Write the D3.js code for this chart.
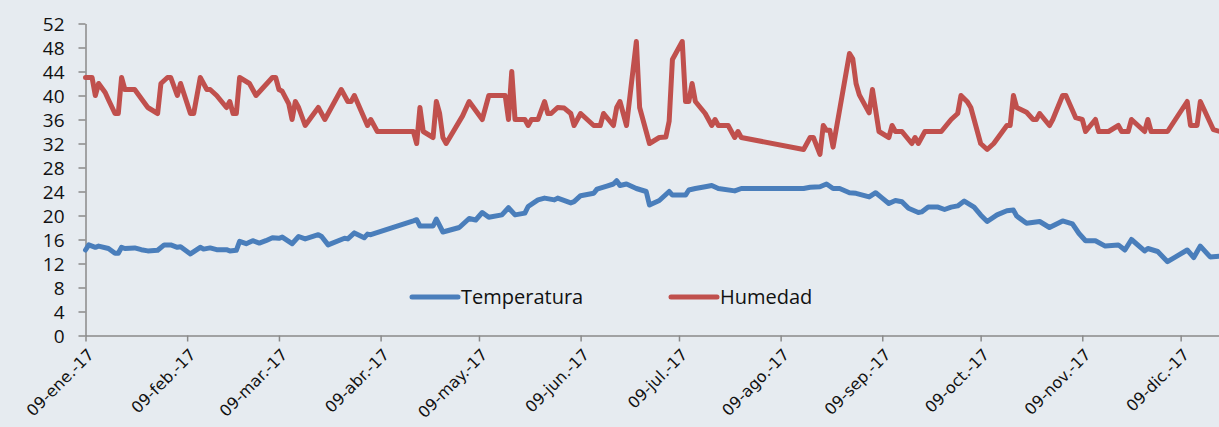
<!DOCTYPE html>
<html>
<head>
<meta charset="utf-8">
<script src="https://cdn.jsdelivr.net/npm/d3@7.9.0/dist/d3.min.js"></script>
<style>
  html, body { margin: 0; padding: 0; background: #e6ebf0; }
  svg { display: block; }
  .axis path, .axis line { stroke: #8a8a8a; stroke-width: 1.5; }
  .y-axis text { font-family: "Open Sans", sans-serif; font-size: 19px; fill: #111; }
  .x-axis text { font-family: "DejaVu Sans", sans-serif; font-size: 16px; fill: #111; }
  .legend text { font-family: "Open Sans", sans-serif; font-size: 20px; fill: #111; }
</style>
</head>
<body>
<svg id="chart" width="1219" height="427"></svg>
<script>
// Humedad (daily readings)
const humDates = ['01-09','01-11','01-12','01-13','01-15','01-16','01-18','01-19','01-20','01-21','01-24','01-28','01-31',
  '02-01','02-03','02-04','02-06','02-07','02-10','02-11','02-13','02-15','02-16','02-18','02-21','02-22','02-23','02-24','02-25','02-28',
  '03-02','03-07','03-08','03-09','03-10','03-12','03-13','03-14','03-15','03-17','03-21','03-23','03-28','03-30','03-31',
  '04-01','04-05','04-06','04-08','04-19','04-20','04-21','04-22','04-25','04-26','04-27','04-28','04-29',
  '05-04','05-06','05-10','05-12','05-17','05-18','05-19','05-20','05-23','05-24','05-25','05-27','05-29','05-30','05-31',
  '06-02','06-04','06-06','06-07','06-09','06-13','06-15','06-16','06-19','06-20','06-21','06-23','06-26','06-27','06-29','06-30',
  '07-03','07-05','07-06','07-07','07-10','07-11','07-12','07-13','07-14','07-17','07-19','07-20','07-21','07-24','07-26','07-27','07-28',
  '08-16','08-18','08-19','08-21','08-22','08-23','08-24','08-25','08-30','08-31',
  '09-01','09-02','09-05','09-06','09-08','09-11','09-12','09-13','09-15','09-18','09-19','09-20','09-22','09-27','09-30',
  '10-02','10-03','10-05','10-06','10-09','10-11','10-13','10-17','10-18','10-19','10-20','10-23','10-25','10-26','10-27','10-30','10-31',
  '11-03','11-04','11-07','11-09','11-10','11-13','11-14','11-17','11-20','11-21','11-23','11-24','11-28','11-29','11-30',
  '12-05','12-11','12-12','12-14','12-15','12-19','12-21'];
const humValues = [43,43,40,42,40.5,39.3,37,37,43,41,41,38,37,
  42,43,43,40,42,37,37,43,41,41,40,38,39,37,37,43,42,
  40,43,43,41,40.7,38.6,36,39,38,35,38,36,41,39,39,
  40,35,36,34,34,32,38,34,33,39,37,33,32,
  36.6,39,36,40,40,36,44,36,36,35,36,36,39,37,37,
  38,37.9,37,35,37,35,35,37,35,38,39,35,49,38,34,32,
  33,33.1,35.7,46,49,39,39,42,39,37,35,36,35,35,33,34,33,
  31,33,33,30.2,35,34.2,34.2,31.4,47,46.1,
  42,40.1,37.1,41,34,33,35,34,34,32,33,32,34,34,36,
  37,40,38.9,38,32,31,32,35,35,40,38,37.2,36,36,37,35,36,
  40,40,36.3,36,34,36,34,34,35,34,34,36,34,36,34,
  34,39,35,35,39,34.3,34];

// Temperatura
const tempDates = ['01-09','01-10','01-12','01-13','01-16','01-18','01-19','01-20','01-21','01-24','01-26','01-28','01-31',
  '02-02','02-04','02-06','02-07','02-10','02-13','02-14','02-16','02-18','02-21','02-22','02-24','02-25','02-27',
  '03-01','03-03','03-05','03-07','03-09','03-10','03-13','03-15','03-17','03-21','03-22','03-24','03-29','03-30',
  '04-01','04-04','04-05','04-06','04-19','04-20','04-21','04-25','04-26','04-28',
  '05-03','05-06','05-08','05-10','05-12','05-16','05-18','05-20','05-23','05-24','05-27','05-29',
  '06-01','06-02','06-06','06-07','06-09','06-13','06-14','06-17','06-19','06-20','06-21','06-23','06-26','06-29','06-30',
  '07-03','07-06','07-07','07-11','07-12','07-14','07-17','07-19','07-21','07-26','07-28',
  '08-16','08-18','08-21','08-23','08-25','08-27','08-30',
  '09-01','09-05','09-07','09-09','09-11','09-13','09-15','09-17','09-20','09-21','09-23','09-26','09-28','09-30',
  '10-02','10-04','10-07','10-09','10-11','10-14','10-17','10-19','10-20','10-23','10-27','10-30',
  '11-03','11-06','11-08','11-10','11-13','11-16','11-20','11-22','11-24','11-28','11-29',
  '12-02','12-05','12-11','12-13','12-15','12-18','12-21'];
const tempValues = [14.25,15.1,14.7,14.9,14.5,13.7,13.7,14.7,14.5,14.6,14.3,14.1,14.2,
  15.1,15.1,14.7,14.8,13.6,14.7,14.4,14.6,14.3,14.3,14.1,14.2,15.7,15.3,
  15.8,15.4,15.8,16.3,16.2,16.4,15.3,16.5,16.1,16.8,16.5,15.1,16.2,16.1,
  17.1,16.3,16.9,16.8,19.1,19.3,18.25,18.25,19.4,17.25,
  18.0,19.5,19.25,20.5,19.7,20.1,21.3,20.1,20.4,21.5,22.6,22.9,
  22.6,22.9,22.1,22.3,23.3,23.7,24.4,24.9,25.25,25.8,25.0,25.25,24.5,24.0,21.75,
  22.5,24.0,23.4,23.4,24.25,24.5,24.8,25.0,24.5,24.1,24.5,
  24.5,24.7,24.8,25.25,24.5,24.5,23.8,
  23.7,23.1,23.8,22.9,22.0,22.5,22.3,21.2,20.5,20.6,21.4,21.4,21.0,21.4,
  21.6,22.4,21.4,20.1,19.0,20.1,20.8,20.9,19.9,18.7,19.0,18.0,
  19.1,18.6,17.0,15.8,15.8,14.9,15.1,14.25,16.0,14.1,14.5,
  14.0,12.3,14.25,13.0,14.9,13.1,13.2];

const yTicks = [0, 4, 8, 12, 16, 20, 24, 28, 32, 36, 40, 44, 48, 52];
const tickDates = ['01-09','02-09','03-09','04-09','05-09','06-09','07-09','08-09','09-09','10-09','11-09','12-09'];
const tickLabels = ['09-ene.-17','09-feb.-17','09-mar.-17','09-abr.-17','09-may.-17','09-jun.-17',
  '09-jul.-17','09-ago.-17','09-sep.-17','09-oct.-17','09-nov.-17','09-dic.-17'];

const seriesNames = ['Temperatura', 'Humedad'];
const seriesColors = ['#4a7ebb', '#c0504d'];

const parse = d3.timeParse('%Y-%m-%d');
const toDate = (md) => parse('2017-' + md);

const svg = d3.select('#chart');
svg.append('rect').attr('width', 1219).attr('height', 427).attr('fill', '#e6ebf0');

const x = d3.scaleTime()
  .domain([toDate('01-09'), toDate('12-21')])
  .range([85.5, 1220]);
const y = d3.scaleLinear().domain([0, 52]).range([335.5, 23.5]);

// y axis
const yAxis = svg.append('g')
  .attr('class', 'axis y-axis')
  .attr('transform', 'translate(85.5,0)')
  .call(d3.axisLeft(y).tickValues(yTicks).tickSize(7).tickSizeOuter(0).tickPadding(14));
yAxis.selectAll('text').attr('dy', '0.36em');

// x axis
const tickMap = new Map(tickDates.map((d, i) => [d, tickLabels[i]]));
const xAxis = svg.append('g')
  .attr('class', 'axis x-axis')
  .attr('transform', 'translate(0,335.5)')
  .call(d3.axisBottom(x)
    .tickValues(tickDates.map(toDate))
    .tickFormat((d) => tickMap.get(d3.timeFormat('%m-%d')(d)))
    .tickSize(6)
    .tickSizeOuter(0));
xAxis.selectAll('text')
  .attr('text-anchor', 'end')
  .attr('dy', null)
  .attr('y', 0)
  .attr('transform', 'translate(9,20) rotate(-45)');

// lines
const line = d3.line()
  .x((d) => x(d.date))
  .y((d) => y(d.value));

const tempData = tempDates.map((d, i) => ({ date: toDate(d), value: tempValues[i] }));
const humData = humDates.map((d, i) => ({ date: toDate(d), value: humValues[i] }));

[tempData, humData].forEach((data, i) => {
  svg.append('path')
    .datum(data)
    .attr('d', line)
    .attr('fill', 'none')
    .attr('stroke', seriesColors[i])
    .attr('stroke-width', 5)
    .attr('stroke-linejoin', 'round')
    .attr('stroke-linecap', 'round');
});

// legend
const legend = svg.append('g').attr('class', 'legend');
const legendX = [412, 671];
seriesNames.forEach((name, i) => {
  const g = legend.append('g').attr('transform', `translate(${legendX[i]},297)`);
  g.append('line')
    .attr('x1', 0).attr('x2', 46)
    .attr('stroke', seriesColors[i])
    .attr('stroke-width', 5)
    .attr('stroke-linecap', 'round');
  g.append('text')
    .attr('x', 49)
    .attr('dy', '0.35em')
    .text(name);
});
</script>
</body>
</html>
